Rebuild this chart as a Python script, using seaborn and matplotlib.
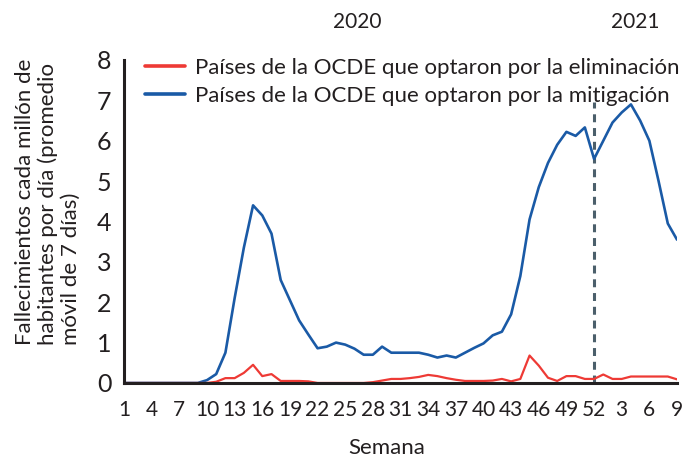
import numpy as np
import pandas as pd
import matplotlib
matplotlib.use("Agg")
import matplotlib.pyplot as plt
from matplotlib.lines import Line2D
import seaborn as sns

# ---------- data ----------
# week labels: 52 weeks of 2020 followed by weeks 1-9 of 2021
weeks = list(range(1, 53)) + list(range(1, 10))

mitigation = [
    0, 0, 0, 0, 0, 0, 0, 0, 0, 0.07,
    0.22, 0.75, 2.1, 3.35, 4.4, 4.15, 3.7, 2.55, 2.05, 1.55,
    1.2, 0.86, 0.9, 1.0, 0.95, 0.85, 0.7, 0.7, 0.9, 0.75,
    0.75, 0.75, 0.75, 0.7, 0.63, 0.68, 0.63, 0.75, 0.87, 0.98,
    1.18, 1.27, 1.7, 2.65, 4.05, 4.85, 5.45, 5.9, 6.22, 6.12,
    6.33, 5.55, 6.0, 6.45, 6.7, 6.9, 6.5, 6.0, 5.0, 3.95,
    3.55,
]
elimination = [
    0, 0, 0, 0, 0, 0, 0, 0, 0, 0,
    0.03, 0.12, 0.12, 0.25, 0.45, 0.17, 0.22, 0.05, 0.05, 0.05,
    0.04, 0, 0, 0, 0, 0, 0, 0.02, 0.06, 0.1,
    0.1, 0.12, 0.15, 0.2, 0.17, 0.12, 0.08, 0.05, 0.05, 0.05,
    0.06, 0.1, 0.04, 0.1, 0.68, 0.43, 0.13, 0.05, 0.17, 0.17,
    0.1, 0.1, 0.21, 0.1, 0.1, 0.16, 0.16, 0.16, 0.16, 0.16,
    0.09,
]

label_elim = "Países de la OCDE que optaron por la eliminación"
label_mitig = "Países de la OCDE que optaron por la mitigación"
red = "#EE3A35"
blue = "#1A5AA6"
ink = "#231F20"

df = pd.DataFrame({
    "pos": np.arange(len(weeks)),
    "week": weeks,
    "elim": elimination,
    "mitig": mitigation,
})

# ---------- plot ----------
sns.set_style("white")
plt.rcParams["font.family"] = ["Lato", "DejaVu Sans"]

fig = plt.figure(figsize=(6.86, 4.58), dpi=100)
ax = fig.add_axes([0.1808, 0.1638, 0.8061, 0.7052])

sns.lineplot(data=df, x="pos", y="mitig", color=blue, linewidth=1.9, ax=ax)
sns.lineplot(data=df, x="pos", y="elim", color=red, linewidth=1.6, ax=ax)

# week 52 marker (year boundary)
ax.axvline(51, ymin=0, ymax=6.95 / 8, color="#4B5F6B", linewidth=2.2,
           linestyle=(0, (2.6, 1.9)), zorder=1)

ax.set_xlim(0, len(weeks) - 1)
ax.set_ylim(0, 8)
ax.set_xticks(df["pos"][::3])
ax.set_xticklabels([str(w) for w in weeks[::3]], fontsize=15)
ax.set_yticks(range(0, 9))
ax.set_yticklabels([str(v) for v in range(0, 9)], fontsize=18)
ax.tick_params(axis="x", length=8, width=2.2, color=ink, pad=4,
               labelcolor=ink)
ax.tick_params(axis="y", length=6, width=2.2, color=ink, pad=3,
               labelcolor=ink)
for s in ["top", "right"]:
    ax.spines[s].set_visible(False)
for s in ["left", "bottom"]:
    ax.spines[s].set_color(ink)
    ax.spines[s].set_linewidth(2.2)
ax.set_xlabel("")
ax.set_ylabel("")

fig.text(387 / 686, 1 - 448 / 458, "Semana", ha="center", va="center",
         fontsize=16, color=ink)
fig.text(48 / 686, 1 - 345 / 458,
         "Fallecimientos cada millón de\nhabitantes por día (promedio\nmóvil de 7 días)",
         rotation=90, ha="center", va="bottom", multialignment="left",
         fontsize=16, color=ink, linespacing=1.15)
fig.text(357 / 686, 1 - 22 / 458, "2020", ha="center", va="center",
         fontsize=15, color=ink)
fig.text(635 / 686, 1 - 22 / 458, "2021", ha="center", va="center",
         fontsize=15, color=ink)

handles = [Line2D([], [], color=red, linewidth=2.6),
           Line2D([], [], color=blue, linewidth=2.6)]
ax.legend(handles, [label_elim, label_mitig], loc="upper left",
          bbox_to_anchor=(0.022, 1.035), frameon=False, fontsize=16,
          handlelength=1.8, handletextpad=0.45, labelspacing=0.36,
          borderaxespad=0, labelcolor=ink)

fig.savefig("out.png", dpi=100)
